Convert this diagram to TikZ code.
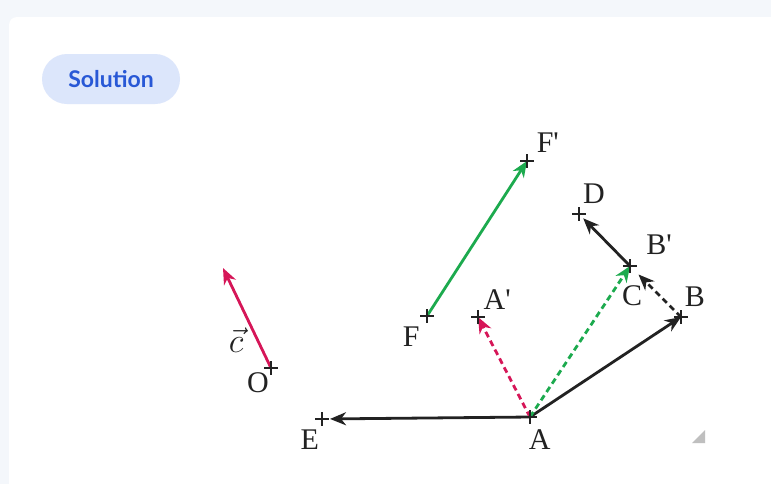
\documentclass[tikz,border=0pt]{standalone}
\usepackage{fontspec}
\newfontfamily\lblfont{Liberation Serif}
\newfontfamily\badgefont{Lato}
\usetikzlibrary{arrows.meta}
\definecolor{vecred}{RGB}{214,22,88}
\definecolor{vecgreen}{RGB}{28,170,78}
\definecolor{vecblack}{RGB}{34,34,34}
\definecolor{badgebg}{RGB}{220,230,251}
\definecolor{badgefg}{RGB}{40,88,214}
\definecolor{pagebg}{RGB}{244,247,251}
\tikzset{
  vec/.style={line width=1.4pt, -{Stealth[length=8pt,width=6.5pt,inset=2.5pt]}},
  dashvec/.style={vec, dash pattern=on 3pt off 2pt},
  tick/.style={line width=1.2pt, draw=vecblack},
  lbl/.style={font=\lblfont\fontsize{15}{17}\selectfont, text=vecblack, inner sep=0pt, anchor=center},
  badge/.style={fill=badgebg, rounded corners=12.5pt, minimum width=69pt, minimum height=25pt,
    text=badgefg, font=\badgefont\bfseries\fontsize{11.5}{13}\selectfont}
}
\begin{document}
\begin{tikzpicture}[x=0.5pt, y=-0.5pt]
    \useasboundingbox (0,0) rectangle (771,484);
    \fill[pagebg] (0,0) rectangle (771,484);
    \fill[white, rounded corners=4pt] (9,17) rectangle (790,500);

    \node[badge] (sol) at (111,79) {Solution};

    \coordinate[label={[lbl,label distance=9.9pt]229:O}] (O) at (271,368);
    \coordinate (ctip) at (223,268);
    \coordinate[label={[lbl,label distance=12.1pt]240:E}] (E) at (322,419);
    \coordinate[label={[lbl,label distance=12.5pt]293:A}] (A) at (530,417);
    \coordinate[label={[lbl,label distance=12.2pt]55:B}] (B) at (681,317);
    \coordinate[label={[lbl,label distance=17.9pt]36:B\textquotesingle}] (Bp) at (630,266);
    \coordinate[label={[lbl,label distance=15pt]-86:C}] (C) at (630,266);
    \coordinate[label={[lbl,label distance=12.5pt]53:D}] (D) at (579,214);
    \coordinate[label={[lbl,label distance=13.1pt]43:A\textquotesingle}] (Ap) at (478,317);
    \coordinate[label={[lbl,label distance=13.2pt]233:F}] (F) at (427,316);
    \coordinate[label={[lbl,label distance=13.8pt]41:F\textquotesingle}] (Fp) at (527,161);

    % vectors
    \draw[vec, vecred] (O) -- node[pos=0.28, left=3pt, text=vecblack, font=\fontsize{17}{19}\selectfont] {$\vec{c}$} (ctip);
    \draw[vec, vecgreen] (F) -- (Fp);
    \draw[vec, vecblack, shorten >=4pt] (A) -- (E);
    \draw[vec, vecblack] (A) -- (B);
    \draw[vec, vecblack, shorten >=3pt] (Bp) -- (D);
    \draw[dashvec, vecblack, shorten >=6pt] (B) -- (C);
    \draw[dashvec, vecred] (A) -- (Ap);
    \draw[dashvec, vecgreen] (A) -- (Bp);

    % crosses
    \foreach \p in {O,E,A,B,Bp,D,Ap,F,Fp}
      \draw[tick] (\p) +(-7,0) -- +(7,0) +(0,-7) -- +(0,7);

    % resize handle
    \fill[black!25] (692,443) -- (705,443) -- (705,430) -- cycle;
\end{tikzpicture}
\end{document}
